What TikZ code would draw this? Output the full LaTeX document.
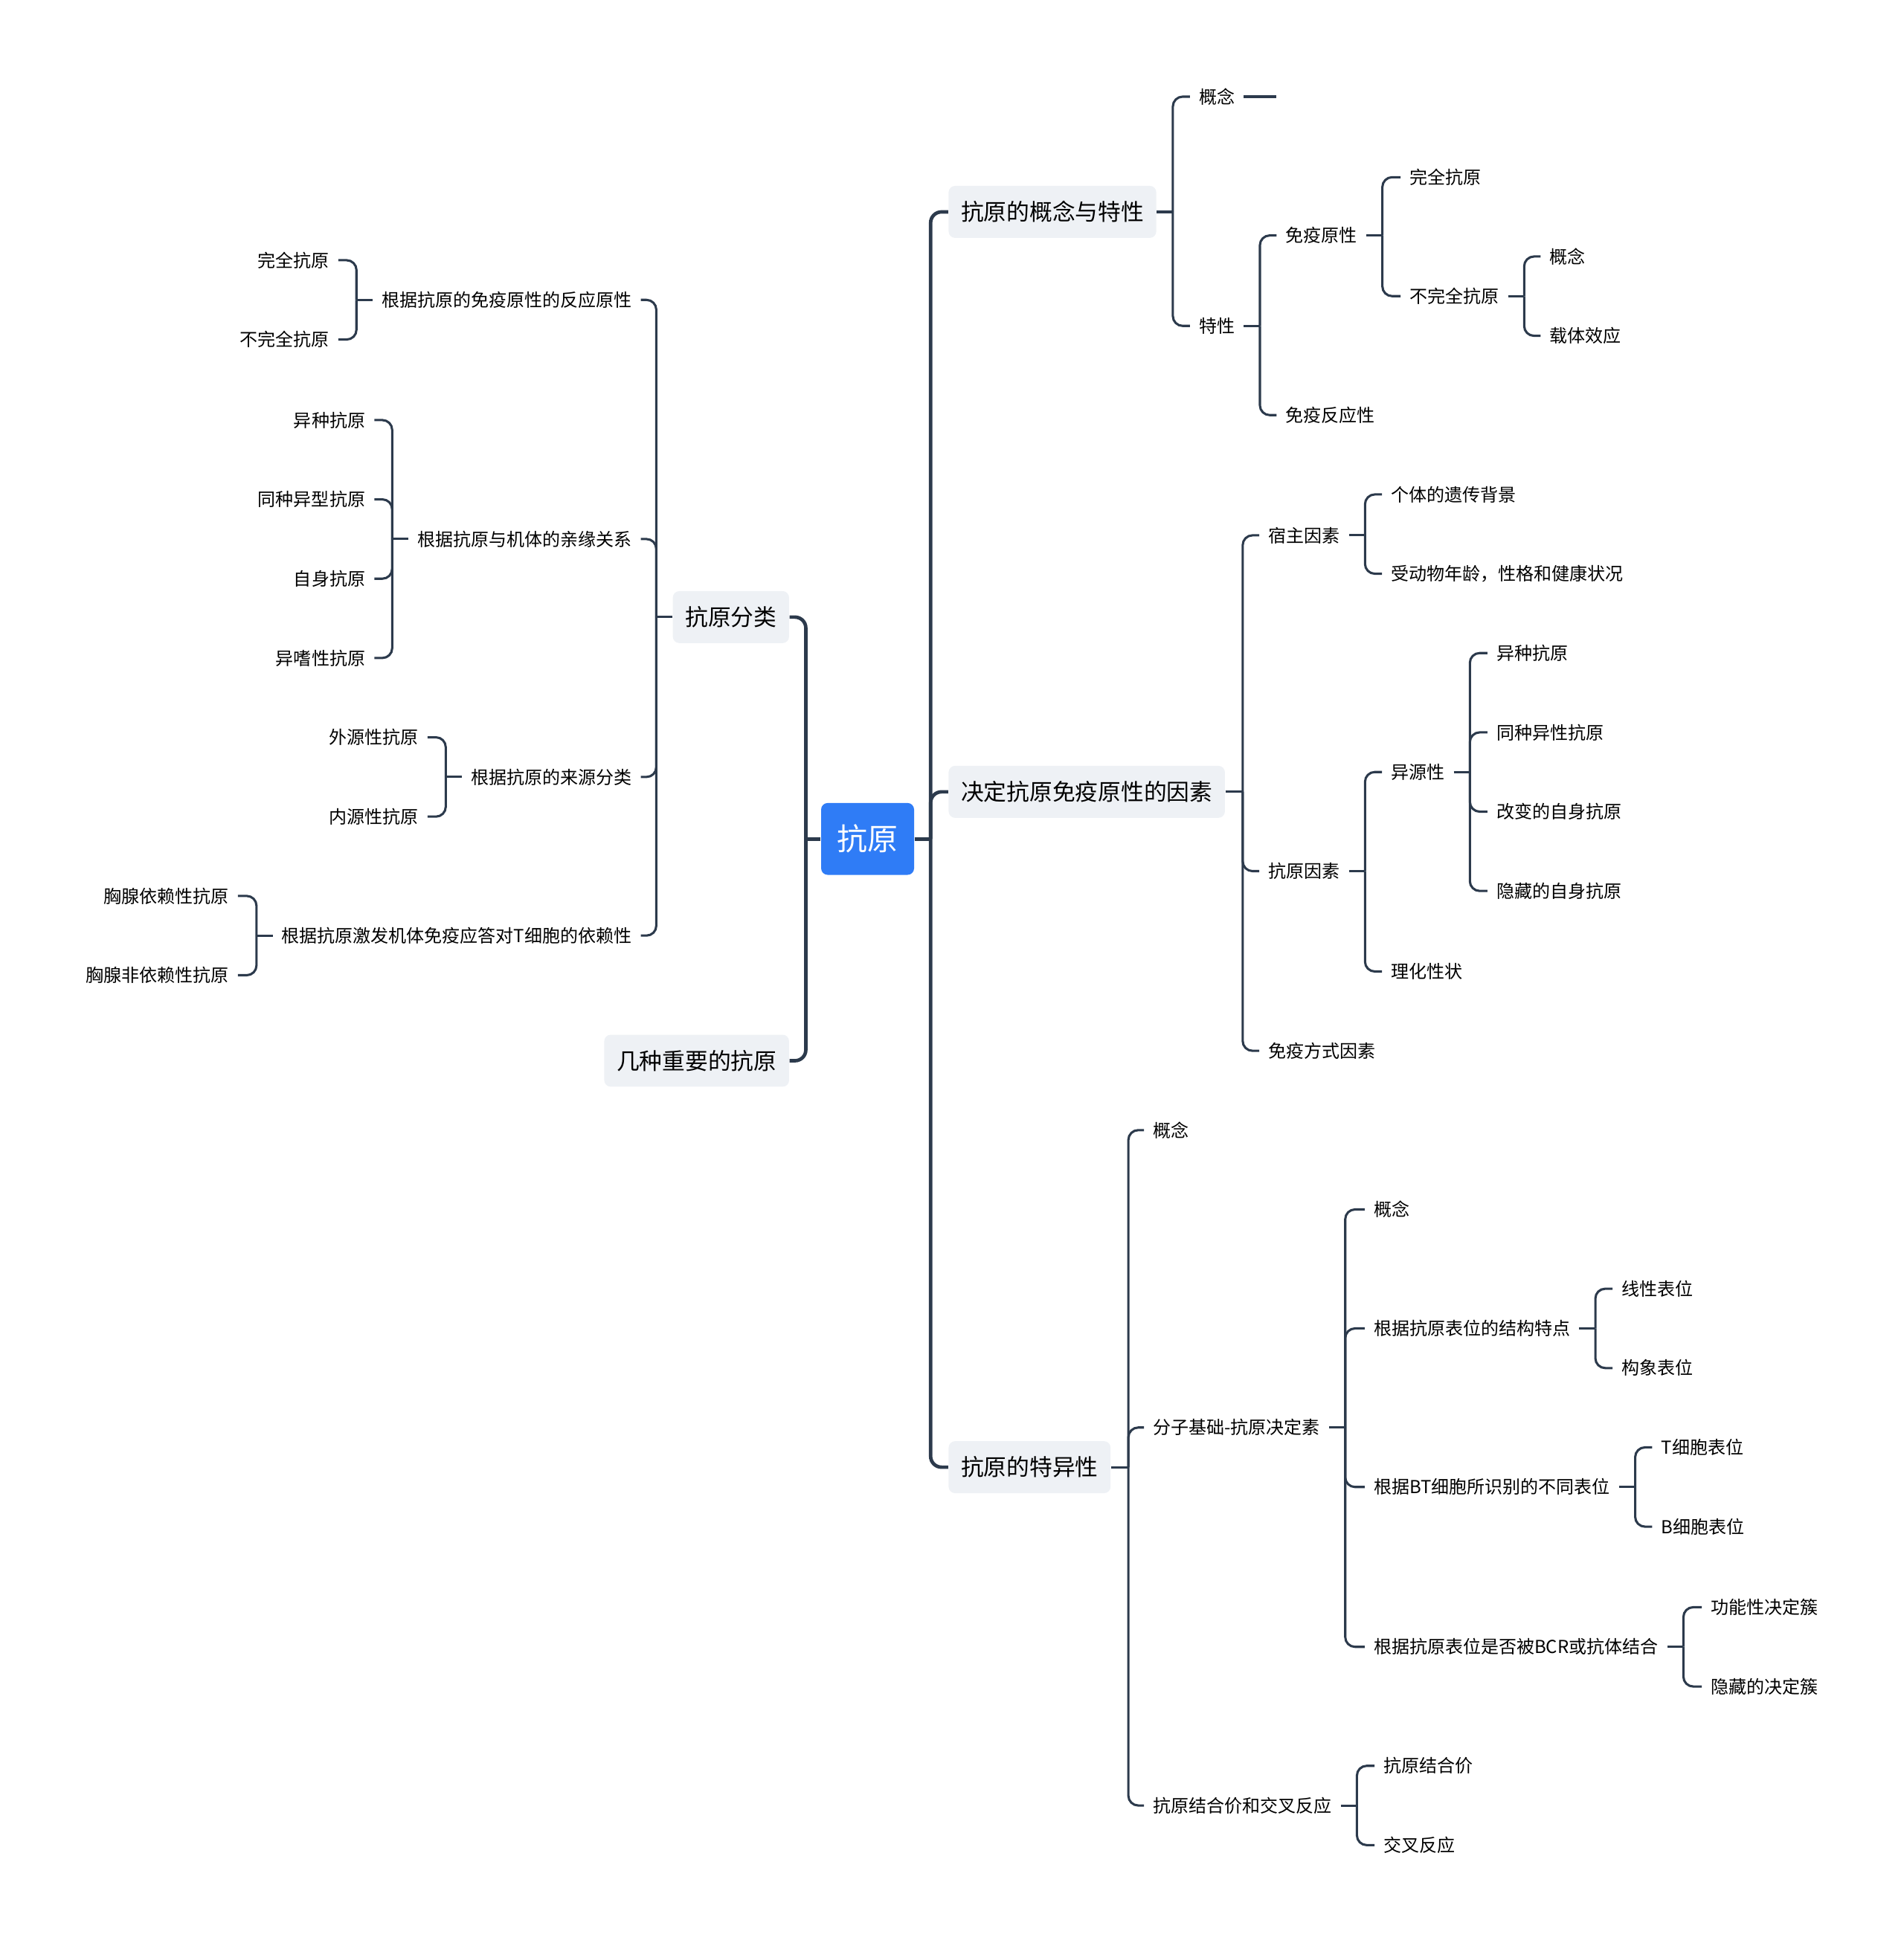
\documentclass[tikz,border=0pt]{standalone}
\usepackage{fontspec}
\setmainfont{Noto Sans CJK SC}
\usepackage{xcolor}
\usetikzlibrary{positioning, calc}

\definecolor{linec}{HTML}{2C3A4C}
\definecolor{rootc}{HTML}{2F7CF6}
\definecolor{topicc}{HTML}{EEF1F5}

\begin{document}
\begin{tikzpicture}[
    x=0.02cm, y=-0.02cm,
    root/.style={rectangle, fill=rootc, rounded corners=3pt, text=white, font=\fontsize{14}{16}\selectfont, minimum width=1.5cm, minimum height=1.16cm, inner sep=0pt},
    topic/.style={rectangle, fill=topicc, rounded corners=3pt, font=\fontsize{10.5}{12}\selectfont, minimum height=0.84cm, inner xsep=0.2cm, inner ysep=0pt},
    leaf/.style={font=\fontsize{8.2}{10}\selectfont, inner xsep=0.14cm, inner ysep=2pt},
    trunk/.style={draw=linec, line width=1.6pt, rounded corners=5pt},
    twig/.style={draw=linec, line width=1.05pt, rounded corners=4.5pt}
]
\useasboundingbox (0,0) rectangle (1536,1568);

% root and main topics
\node[root] (antigen) at (700,677) {抗原};
\node[topic, anchor=west] (concept) at (765,171) {抗原的概念与特性};
\node[topic, anchor=west] (factor) at (765,639) {决定抗原免疫原性的因素};
\node[topic, anchor=west] (special) at (765,1184) {抗原的特异性};
\node[topic, anchor=east] (classify) at (637,498) {抗原分类};
\node[topic, anchor=east] (important) at (637,856) {几种重要的抗原};

\draw[trunk] (antigen.east) -- ++(13,0) coordinate (jr);
\foreach \n in {concept,factor,special} \draw[trunk] (jr) |- (\n.west);
\draw[trunk] (antigen.west) -- ++(-12,0) coordinate (jl);
\foreach \n in {classify,important} \draw[trunk] (jl) |- (\n.east);

% concept branch
\node[leaf, anchor=west] (cdef) at (960,78) {概念};
\node[leaf, anchor=west] (cprop) at (960,263) {特性};
\node[leaf, anchor=west] (cimmu) at (1030,190) {免疫原性};
\node[leaf, anchor=west] (creac) at (1030,335) {免疫反应性};
\node[leaf, anchor=west] (cfull) at (1130,143) {完全抗原};
\node[leaf, anchor=west] (chalf) at (1130,239) {不完全抗原};
\node[leaf, anchor=west] (chdef) at (1243,207) {概念};
\node[leaf, anchor=west] (chcar) at (1243,271) {载体效应};
\coordinate (cblank) at (1030,78);

\draw[twig] (concept.east) -- ++(13,0) coordinate (jc);
\foreach \n in {cdef,cprop} \draw[twig] (jc) |- (\n.west);
\draw[twig] (cdef.east) -- (cblank);
\draw[twig] (cprop.east) -- ++(13,0) coordinate (jcp);
\foreach \n in {cimmu,creac} \draw[twig] (jcp) |- (\n.west);
\draw[twig] (cimmu.east) -- ++(13,0) coordinate (jci);
\foreach \n in {cfull,chalf} \draw[twig] (jci) |- (\n.west);
\draw[twig] (chalf.east) -- ++(13,0) coordinate (jch);
\foreach \n in {chdef,chcar} \draw[twig] (jch) |- (\n.west);

% factor branch
\node[leaf, anchor=west] (fhost) at (1016,432) {宿主因素};
\node[leaf, anchor=west] (fanti) at (1016,703) {抗原因素};
\node[leaf, anchor=west] (fway) at (1016,848) {免疫方式因素};
\node[leaf, anchor=west] (fgene) at (1115,399) {个体的遗传背景};
\node[leaf, anchor=west] (fage) at (1115,463) {受动物年龄，性格和健康状况};
\node[leaf, anchor=west] (fhet) at (1115,623) {异源性};
\node[leaf, anchor=west] (fphys) at (1115,784) {理化性状};
\node[leaf, anchor=west] (fhet1) at (1200,527) {异种抗原};
\node[leaf, anchor=west] (fhet2) at (1200,591) {同种异性抗原};
\node[leaf, anchor=west] (fhet3) at (1200,655) {改变的自身抗原};
\node[leaf, anchor=west] (fhet4) at (1200,719) {隐藏的自身抗原};

\draw[twig] (factor.east) -- ++(14,0) coordinate (jf);
\foreach \n in {fhost,fanti,fway} \draw[twig] (jf) |- (\n.west);
\draw[twig] (fhost.east) -- ++(13,0) coordinate (jfh);
\foreach \n in {fgene,fage} \draw[twig] (jfh) |- (\n.west);
\draw[twig] (fanti.east) -- ++(13,0) coordinate (jfa);
\foreach \n in {fhet,fphys} \draw[twig] (jfa) |- (\n.west);
\draw[twig] (fhet.east) -- ++(13,0) coordinate (jfe);
\foreach \n in {fhet1,fhet2,fhet3,fhet4} \draw[twig] (jfe) |- (\n.west);

% specificity branch
\node[leaf, anchor=west] (sdef) at (923,912) {概念};
\node[leaf, anchor=west] (sbase) at (923,1152) {分子基础-抗原决定素};
\node[leaf, anchor=west] (sval) at (923,1457) {抗原结合价和交叉反应};
\node[leaf, anchor=west] (sbdef) at (1101,976) {概念};
\node[leaf, anchor=west] (sstru) at (1101,1072) {根据抗原表位的结构特点};
\node[leaf, anchor=west] (scell) at (1101,1200) {根据BT细胞所识别的不同表位};
\node[leaf, anchor=west] (sbcr) at (1101,1329) {根据抗原表位是否被BCR或抗体结合};
\node[leaf, anchor=west] (slin) at (1301,1040) {线性表位};
\node[leaf, anchor=west] (sconf) at (1301,1104) {构象表位};
\node[leaf, anchor=west] (stcell) at (1333,1168) {T细胞表位};
\node[leaf, anchor=west] (sbcell) at (1333,1232) {B细胞表位};
\node[leaf, anchor=west] (sfunc) at (1373,1297) {功能性决定簇};
\node[leaf, anchor=west] (shide) at (1373,1361) {隐藏的决定簇};
\node[leaf, anchor=west] (sbind) at (1109,1425) {抗原结合价};
\node[leaf, anchor=west] (scross) at (1109,1489) {交叉反应};

\draw[twig] (special.east) -- ++(14,0) coordinate (js);
\foreach \n in {sdef,sbase,sval} \draw[twig] (js) |- (\n.west);
\draw[twig] (sbase.east) -- ++(13,0) coordinate (jsb);
\foreach \n in {sbdef,sstru,scell,sbcr} \draw[twig] (jsb) |- (\n.west);
\draw[twig] (sstru.east) -- ++(13,0) coordinate (jss);
\foreach \n in {slin,sconf} \draw[twig] (jss) |- (\n.west);
\draw[twig] (scell.east) -- ++(13,0) coordinate (jsc);
\foreach \n in {stcell,sbcell} \draw[twig] (jsc) |- (\n.west);
\draw[twig] (sbcr.east) -- ++(13,0) coordinate (jsr);
\foreach \n in {sfunc,shide} \draw[twig] (jsr) |- (\n.west);
\draw[twig] (sval.east) -- ++(13,0) coordinate (jsv);
\foreach \n in {sbind,scross} \draw[twig] (jsv) |- (\n.west);

% classify branch (left)
\node[leaf, anchor=east] (kreact) at (517,242) {根据抗原的免疫原性的反应原性};
\node[leaf, anchor=east] (kkin) at (517,435) {根据抗原与机体的亲缘关系};
\node[leaf, anchor=east] (ksrc) at (517,627) {根据抗原的来源分类};
\node[leaf, anchor=east] (ktdep) at (517,755) {根据抗原激发机体免疫应答对T细胞的依赖性};
\node[leaf, anchor=east] (kfull) at (273,210) {完全抗原};
\node[leaf, anchor=east] (khalf) at (273,274) {不完全抗原};
\node[leaf, anchor=east] (kxeno) at (302,339) {异种抗原};
\node[leaf, anchor=east] (kallo) at (302,403) {同种异型抗原};
\node[leaf, anchor=east] (kauto) at (302,467) {自身抗原};
\node[leaf, anchor=east] (khete) at (302,531) {异嗜性抗原};
\node[leaf, anchor=east] (kexo) at (345,595) {外源性抗原};
\node[leaf, anchor=east] (kendo) at (345,659) {内源性抗原};
\node[leaf, anchor=east] (ktd) at (192,723) {胸腺依赖性抗原};
\node[leaf, anchor=east] (kti) at (192,787) {胸腺非依赖性抗原};

\draw[twig] (classify.west) -- ++(-13,0) coordinate (jk);
\foreach \n in {kreact,kkin,ksrc,ktdep} \draw[twig] (jk) |- (\n.east);
\draw[twig] (kreact.west) -- ++(-13,0) coordinate (jkr);
\foreach \n in {kfull,khalf} \draw[twig] (jkr) |- (\n.east);
\draw[twig] (kkin.west) -- ++(-13,0) coordinate (jkk);
\foreach \n in {kxeno,kallo,kauto,khete} \draw[twig] (jkk) |- (\n.east);
\draw[twig] (ksrc.west) -- ++(-13,0) coordinate (jks);
\foreach \n in {kexo,kendo} \draw[twig] (jks) |- (\n.east);
\draw[twig] (ktdep.west) -- ++(-13,0) coordinate (jkt);
\foreach \n in {ktd,kti} \draw[twig] (jkt) |- (\n.east);

\end{tikzpicture}
\end{document}
